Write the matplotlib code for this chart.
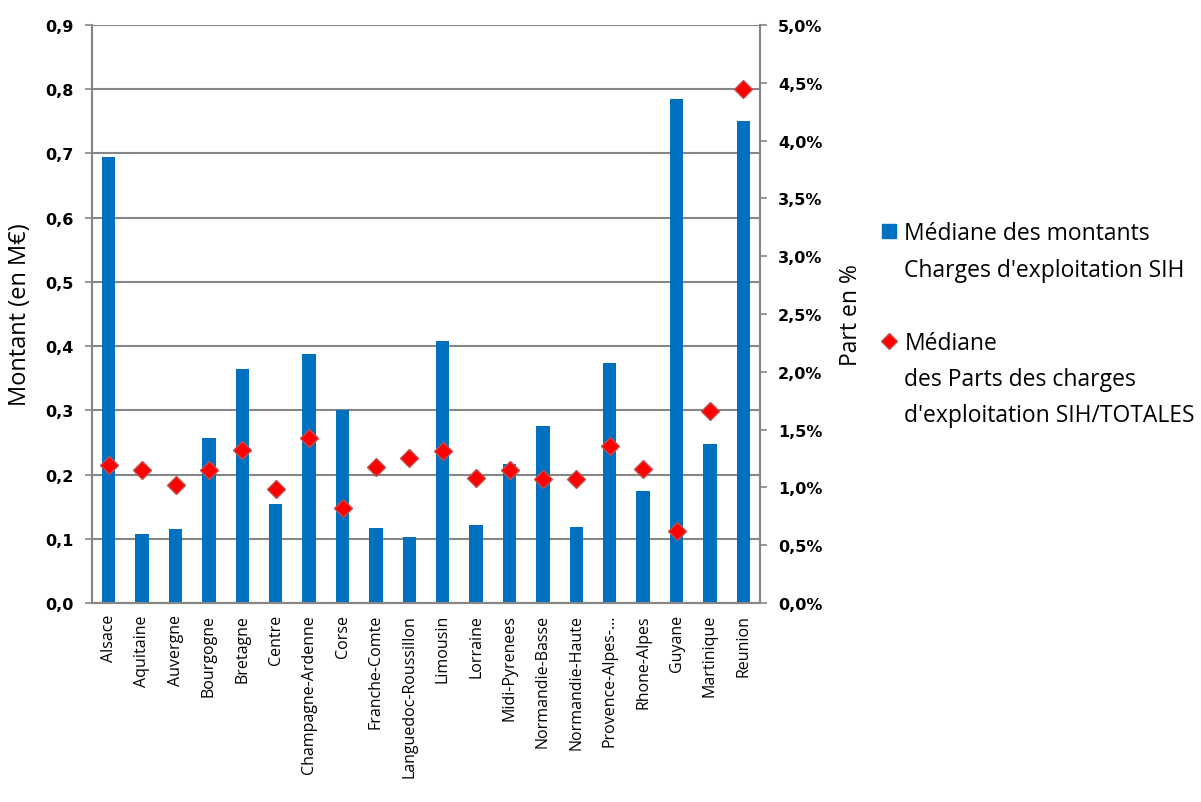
import numpy as np
import matplotlib
matplotlib.use("Agg")
import matplotlib.pyplot as plt
from matplotlib.lines import Line2D

# ------------------------------------------------------------------------------
# data
regions = ["Alsace", "Aquitaine", "Auvergne", "Bourgogne", "Bretagne", "Centre",
           "Champagne-Ardenne", "Corse", "Franche-Comte", "Languedoc-Roussillon",
           "Limousin", "Lorraine", "Midi-Pyrenees", "Normandie-Basse",
           "Normandie-Haute", "Provence-Alpes-…", "Rhone-Alpes", "Guyane",
           "Martinique", "Reunion"]
# median amounts (M€)
montants = [0.694, 0.108, 0.116, 0.257, 0.365, 0.154, 0.388, 0.300, 0.117, 0.102,
            0.408, 0.122, 0.216, 0.275, 0.118, 0.373, 0.175, 0.784, 0.248, 0.750]
# median share of charges (%)
parts = [1.19, 1.15, 1.02, 1.15, 1.32, 0.99, 1.43, 0.82, 1.18, 1.255,
         1.317, 1.084, 1.149, 1.074, 1.074, 1.361, 1.156, 0.622, 1.662, 4.45]

left_ticks = [0.0, 0.1, 0.2, 0.3, 0.4, 0.5, 0.6, 0.7, 0.8, 0.9]
right_ticks = [0.0, 0.5, 1.0, 1.5, 2.0, 2.5, 3.0, 3.5, 4.0, 4.5, 5.0]

label_bar = ["Médiane des montants", "Charges d'exploitation SIH"]
label_pt = ["Médiane", "des Parts des charges", "d'exploitation SIH/TOTALES"]

blue = "#0070C0"
red = "#FF0000"
grey = "#868686"

# ------------------------------------------------------------------------------
fig = plt.figure(figsize=(12.01, 8.03), dpi=100)
ax = fig.add_axes([92 / 1201, 1 - 604 / 803, (760 - 92) / 1201, (604 - 26) / 803])
ax2 = ax.twinx()

x = np.arange(len(regions))
ax.bar(x, montants, width=0.4, color=blue, zorder=2)
ax2.plot(x, parts, linestyle="none", marker="D", markersize=9,
         markerfacecolor=red, markeredgecolor="#C0504D", markeredgewidth=1, zorder=3)

ax.set_xlim(-0.5, len(regions) - 0.5)
ax.set_ylim(0, 0.9)
ax2.set_ylim(0, 5.0)

ax.set_yticks(left_ticks)
ax.set_yticklabels([("%.1f" % v).replace(".", ",") for v in left_ticks],
                   fontweight="bold", fontsize=11.5)
ax2.set_yticks(right_ticks)
ax2.set_yticklabels([("%.1f%%" % v).replace(".", ",") for v in right_ticks],
                    fontweight="bold", fontsize=11.5)

ax.set_xticks(x)
ax.set_xticklabels(regions, rotation=90, fontsize=11.5, family="Open Sans")
ax.tick_params(axis="x", length=0, pad=8)
ax.tick_params(axis="y", length=5, color=grey, width=1.2, pad=8)
ax2.tick_params(axis="y", length=5, color=grey, width=1.2, pad=8)

ax.grid(axis="y", color=grey, linewidth=1.5, zorder=0)
ax.set_axisbelow(True)

for a in (ax, ax2):
    for s in a.spines.values():
        s.set_color(grey)
        s.set_linewidth(1.5)
ax.spines["top"].set_visible(False)
ax2.spines["top"].set_visible(False)

ax.set_ylabel("Montant (en M€)", fontsize=17, family="Open Sans", labelpad=10)
ax2.set_ylabel("Part en %", fontsize=16.5, family="Open Sans", labelpad=12)

# legend: one row per text line so the marker sits next to the first line
blank = Line2D([], [], linestyle="none")
sq = Line2D([], [], linestyle="none", marker="s", markersize=10,
            markerfacecolor=blue, markeredgecolor=blue)
dia = Line2D([], [], linestyle="none", marker="D", markersize=8,
             markerfacecolor=red, markeredgecolor="#C0504D")
handles = [sq, blank, blank, dia, blank, blank]
labels = [label_bar[0], label_bar[1], "", label_pt[0], label_pt[1], label_pt[2]]
leg = fig.legend(handles, labels, loc="upper left",
                 bbox_to_anchor=(870 / 1201, 1 - 211 / 803), frameon=False,
                 prop={"family": "Open Sans", "size": 16.5}, handlelength=0.7,
                 handletextpad=0.3, labelspacing=0.54, borderpad=0)

fig.savefig("out.png", dpi=100)
